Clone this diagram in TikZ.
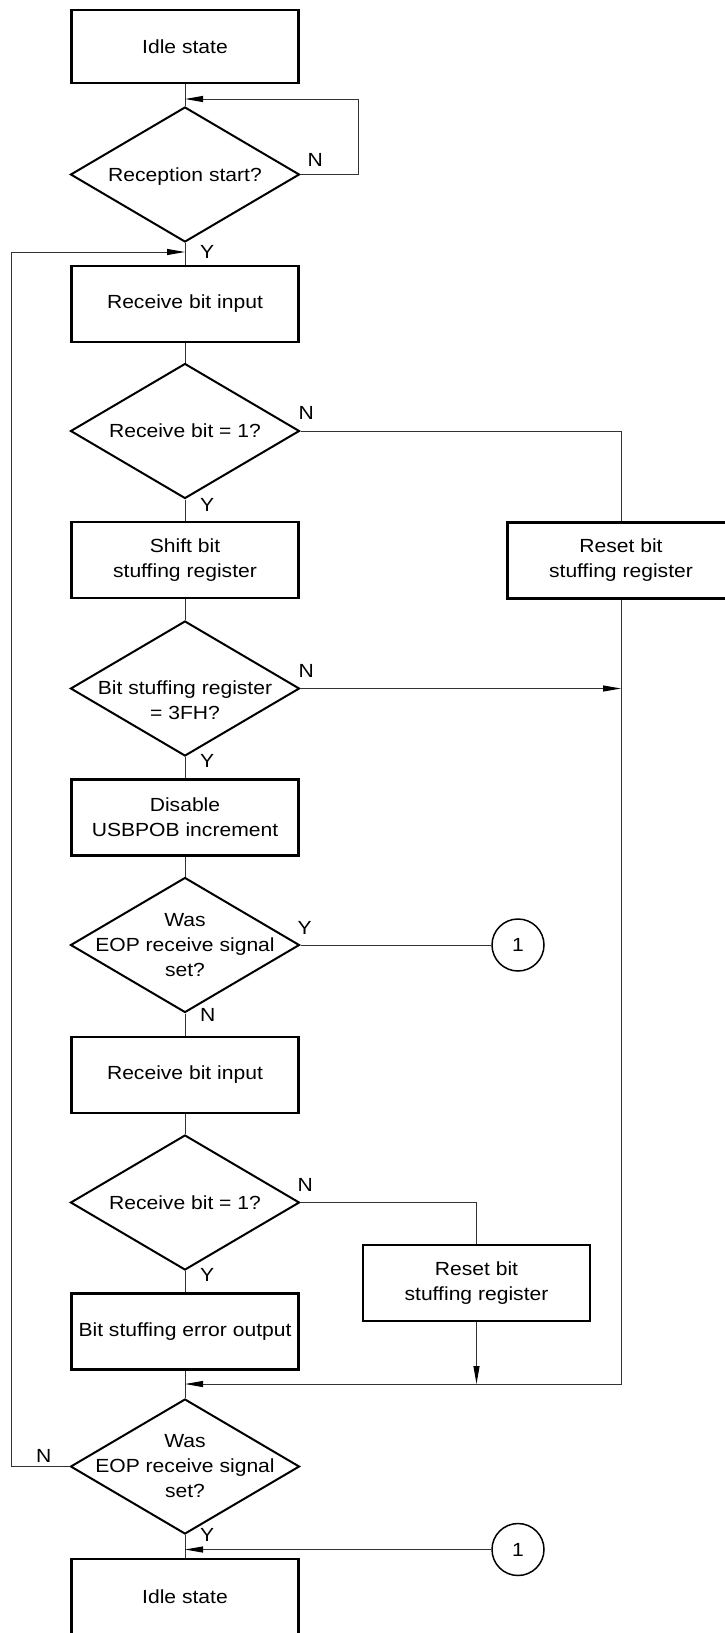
\documentclass[tikz,border=0pt]{standalone}
\usepackage{fontspec}
\setmainfont{Liberation Sans}[FakeStretch=1.11]
\usetikzlibrary{arrows.meta,shapes.geometric,positioning}
\tikzset{
  box/.style={
    shape = rectangle,
    draw,
    line width = 2.2pt,
    minimum width = 227pt,
    minimum height = 76pt,
    inner sep = 0pt,
    align = center
  },
  decision/.style={
    shape = diamond,
    draw,
    line width = 2pt,
    minimum width = 229pt,
    minimum height = 135pt,
    inner sep = 0pt
  },
  connector/.style={
    shape = circle,
    draw,
    line width = 1.5pt,
    minimum size = 52pt,
    inner sep = 0pt
  },
  flow/.style={
    line width = 1pt,
    draw = black!80
  },
  arr/.style={
    flow,
    -{Triangle[length=18pt,width=6pt,black]}
  },
  yn/.style={
    inner sep = 0pt
  },
  dtext/.style={
    align = center
  },
  every picture/.style = {
    font = \fontsize{19pt}{25pt}\selectfont
  }
}

\begin{document}
\begin{tikzpicture}[x=1pt, y=-1pt]
\useasboundingbox (0,0) rectangle (725,1633);
\clip (0,0) rectangle (725,1633);
\node[box, minimum height=73pt] (idle1) at (185,46.5) {Idle state};
\node[decision, label={[dtext, yshift=-2pt]center:Reception start?}] (dec1) at (185,174.5) {};
\node[box] (recv1) at (185,304) {Receive bit input};
\node[decision, label={[dtext]center:Receive bit = 1?}] (dec2) at (185,431) {};
\node[box] (shift) at (185,560) {Shift bit\\stuffing register};
\node[box] (reset1) at (621,560.5) {Reset bit\\stuffing register};
\node[decision, label={[dtext, yshift=-12pt]center:Bit stuffing register\\= 3FH?}] (dec3) at (185,688.5) {};
\node[box] (disable) at (185,817.5) {Disable\\USBPOB increment};
\node[decision, label={[dtext]center:Was\\EOP receive signal\\set?}] (dec4) at (185,945) {};
\node[connector] (con1) at (518,945) {1};
\node[box] (recv2) at (185,1075) {Receive bit input};
\node[decision, label={[dtext]center:Receive bit = 1?}] (dec5) at (185,1202.5) {};
\node[box] (reset2) at (476.5,1283) {Reset bit\\stuffing register};
\node[box] (error) at (185,1331.5) {Bit stuffing error output};
\node[decision, label={[dtext]center:Was\\EOP receive signal\\set?}] (dec6) at (185,1466.5) {};
\node[connector] (con2) at (518,1549.5) {1};
\node[box] (idle2) at (185,1597) {Idle state};

\coordinate (j1) at (185,99);
\coordinate (j2) at (185,252);
\coordinate (j3) at (185,1384);

\foreach \a/\b in {idle1/dec1, dec1/recv1, recv1/dec2, dec2/shift, shift/dec3, dec3/disable,
  disable/dec4, dec4/recv2, recv2/dec5, dec5/error, error/dec6, dec6/idle2}{
  \draw[flow] (\a.south) -- (\b.north);}
\draw[arr] (dec1.east) -- ++(58,0) |- (j1);
\draw[arr] (dec6.west) -- ++(-58,0) |- (j2);
\draw[flow] (dec2.east) -| (reset1.north);
\draw[arr] (dec3.east) -- (dec3.east -| reset1.south);
\draw[arr] (reset1.south) |- (j3);
\draw[flow] (dec4.east) -- (con1.west);
\draw[flow] (dec5.east) -| (reset2.north);
\draw[arr] (reset2.south) -- (reset2.south |- j3);
\draw[arr] (con2.west) -- (con2.west -| idle2.north);

\node[yn, anchor=south west] (n1) at ([xshift=7pt,yshift=8pt]dec1.east) {N};
\node[yn, anchor=north west] (y1) at ([xshift=15pt,yshift=-2pt]dec1.south) {Y};
\node[yn, anchor=south west] (n2) at ([xshift=-2pt,yshift=11pt]dec2.east) {N};
\node[yn, anchor=north west] (y2) at ([xshift=15pt,yshift=1pt]dec2.south) {Y};
\node[yn, anchor=south west] (n3) at ([xshift=-2pt,yshift=11pt]dec3.east) {N};
\node[yn, anchor=north west] (y3) at ([xshift=15pt,yshift=3pt]dec3.south) {Y};
\node[yn, anchor=south west] (y4) at ([xshift=-3pt,yshift=10pt]dec4.east) {Y};
\node[yn, anchor=north west] (n4) at ([xshift=15pt,yshift=5pt]dec4.south) {N};
\node[yn, anchor=south west] (n5) at ([xshift=-3pt,yshift=11pt]dec5.east) {N};
\node[yn, anchor=north west] (y5) at ([xshift=15pt,yshift=3pt]dec5.south) {Y};
\node[yn, anchor=south east] (n6) at ([xshift=-18pt,yshift=4pt]dec6.west) {N};
\node[yn, anchor=north west] (y6) at ([xshift=15pt,yshift=7pt]dec6.south) {Y};
\end{tikzpicture}
\end{document}
